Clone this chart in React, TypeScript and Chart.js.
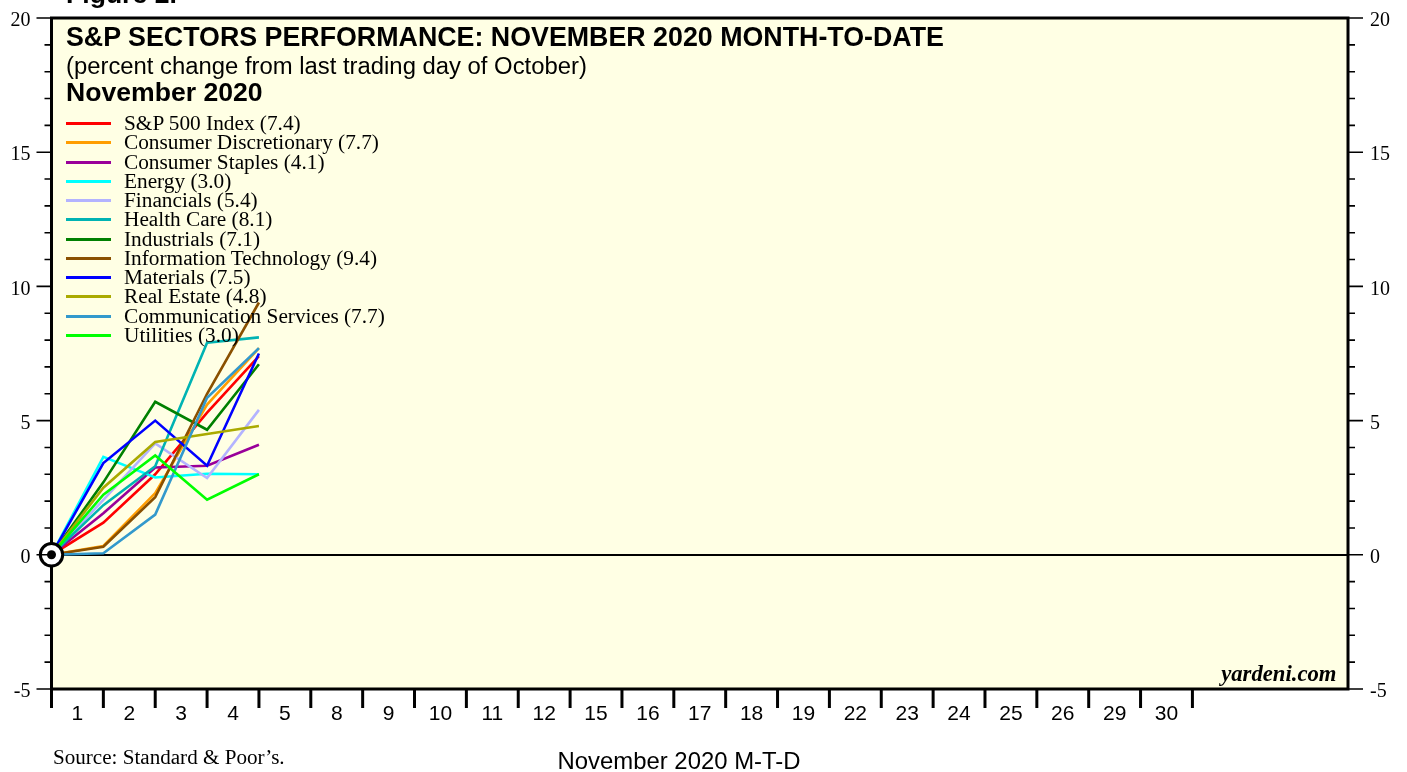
import React, { useEffect, useRef } from "react";
import { Chart, registerables } from "chart.js";

Chart.register(...registerables);

// ---- data ----
const dayLabels = ["1", "2", "3", "4", "5", "8", "9", "10", "11", "12", "15", "16", "17", "18", "19", "22", "23", "24", "25", "26", "29", "30", "", "", ""];
const lastTickedDay = 22; // number of labelled trading-day slots
const tradingDayIndex = [0, 1, 2, 3, 4];

const seriesNames = [
  "S&P 500 Index",
  "Consumer Discretionary",
  "Consumer Staples",
  "Energy",
  "Financials",
  "Health Care",
  "Industrials",
  "Information Technology",
  "Materials",
  "Real Estate",
  "Communication Services",
  "Utilities",
];
const seriesColors = [
  "#ff0000",
  "#ff9d00",
  "#990099",
  "#00ffff",
  "#b3b3ff",
  "#00b3b3",
  "#008000",
  "#8a5000",
  "#0000ff",
  "#aaaa00",
  "#3399cc",
  "#00ff00",
];
const sp500Index = [0, 1.2, 3.0, 5.3, 7.4];
const consumerDiscretionary = [0, 0.33, 2.3, 5.6, 7.7];
const consumerStaples = [0, 1.55, 3.25, 3.32, 4.1];
const energy = [0, 3.65, 2.88, 3.02, 3.0];
const financials = [0, 2.05, 4.15, 2.86, 5.4];
const healthCare = [0, 1.85, 3.3, 7.9, 8.1];
const industrials = [0, 2.7, 5.7, 4.66, 7.1];
const informationTechnology = [0, 0.3, 2.15, 6.0, 9.4];
const materials = [0, 3.42, 5.0, 3.32, 7.5];
const realEstate = [0, 2.5, 4.2, 4.5, 4.8];
const communicationServices = [0, 0.06, 1.5, 5.85, 7.7];
const utilities = [0, 2.24, 3.7, 2.05, 3.0];
const seriesValues = [
  sp500Index,
  consumerDiscretionary,
  consumerStaples,
  energy,
  financials,
  healthCare,
  industrials,
  informationTechnology,
  materials,
  realEstate,
  communicationServices,
  utilities,
];

const yMin = -5;
const yMax = 20;
const yMajorStep = 5;

const titleText = "S&P SECTORS PERFORMANCE: NOVEMBER 2020 MONTH-TO-DATE";
const subtitleText = "(percent change from last trading day of October)";
const periodText = "November 2020";
const figureText = "Figure 2.";
const xTitleText = "November 2020 M-T-D";
const sourceText = "Source: Standard & Poor\u2019s.";
const brandText = "yardeni.com";

// ---- styles ----
const SANS = '"Liberation Sans", Arial, Helvetica, sans-serif';
const SERIF = '"Liberation Serif", "Times New Roman", Times, serif';
const PLOT_BG = "#ffffe4";

const framePlugin = {
  id: "frame",
  beforeDraw(chart: any) {
    const { ctx, chartArea: a } = chart;
    ctx.save();
    ctx.fillStyle = PLOT_BG;
    ctx.fillRect(a.left, a.top, a.right - a.left, a.bottom - a.top);
    ctx.restore();
  },
  beforeDatasetsDraw(chart: any) {
    const { ctx, chartArea: a } = chart;
    ctx.save();
    ctx.strokeStyle = "#000";
    ctx.lineWidth = 3;
    ctx.strokeRect(a.left, a.top, a.right - a.left, a.bottom - a.top);
    ctx.restore();
  },
  afterDraw(chart: any) {
    const { ctx, chartArea: a } = chart;
    const ys = chart.scales.y;
    const xs = chart.scales.x;
    ctx.save();
    ctx.strokeStyle = "#000";
    ctx.lineWidth = 1.6;
    for (let v = yMin; v <= yMax; v++) {
      const py = ys.getPixelForValue(v);
      const len = v % yMajorStep === 0 ? 15 : 7;
      ctx.beginPath();
      ctx.moveTo(a.left - len, py);
      ctx.lineTo(a.left, py);
      ctx.moveTo(a.right, py);
      ctx.lineTo(a.right + len, py);
      ctx.stroke();
    }
    ctx.lineWidth = 3;
    for (let i = 0; i <= lastTickedDay; i++) {
      const px = xs.getPixelForValue(i);
      ctx.beginPath();
      ctx.moveTo(px, a.bottom);
      ctx.lineTo(px, a.bottom + 19);
      ctx.stroke();
    }
    ctx.restore();
  },
};

function Txt(props: {
  x: number;
  baseline: number;
  size: number;
  family: "sans" | "serif";
  bold?: boolean;
  italic?: boolean;
  align?: "left" | "center" | "right";
  children: React.ReactNode;
}) {
  const { x, baseline, size, family, bold, italic, align = "left" } = props;
  const ratio = family === "sans" ? 0.8465 : 0.8375;
  const style: React.CSSProperties = {
    position: "absolute",
    top: baseline - ratio * size,
    fontFamily: family === "sans" ? SANS : SERIF,
    fontSize: size,
    lineHeight: `${size}px`,
    fontWeight: bold ? "bold" : "normal",
    fontStyle: italic ? "italic" : "normal",
    whiteSpace: "nowrap",
    color: "#000",
  };
  if (align === "left") style.left = x;
  else if (align === "right") style.right = 1407 - x;
  else {
    style.left = x;
    style.transform = "translateX(-50%)";
  }
  return <div style={style}>{props.children}</div>;
}

function fitVertical(width: number) {
  return (s: any) => {
    s.width = width;
    s.paddingTop = 0;
    s.paddingBottom = 0;
  };
}

export default function App() {
  const canvasRef = useRef<HTMLCanvasElement>(null);

  useEffect(() => {
    const canvas = canvasRef.current;
    if (!canvas) return;
    const n = seriesNames.length;
    const lineSets: any[] = seriesNames.map((name, i) => ({
      type: "line",
      label: name,
      data: tradingDayIndex.map((x, j) => ({ x, y: seriesValues[i][j] })),
      borderColor: seriesColors[i],
      backgroundColor: seriesColors[i],
      borderWidth: 2.6,
      pointRadius: 0,
      tension: 0,
      fill: false,
      xAxisID: "x",
      yAxisID: "y",
      order: n - i,
    }));
    const origin = { x: tradingDayIndex[0], y: sp500Index[0] };
    const markerSets: any[] = [
      {
        type: "line",
        label: "origin-dot",
        data: [origin],
        showLine: false,
        pointRadius: 4.5,
        pointBorderWidth: 0,
        pointBackgroundColor: "#000",
        pointBorderColor: "#000",
        clip: false,
        xAxisID: "x",
        yAxisID: "y",
        order: -20,
      },
      {
        type: "line",
        label: "origin-ring",
        data: [origin],
        showLine: false,
        pointRadius: 11.2,
        pointBorderWidth: 3,
        pointBackgroundColor: "#fff",
        pointBorderColor: "#000",
        clip: false,
        xAxisID: "x",
        yAxisID: "y",
        order: -10,
      },
    ];

    const yTickFont = { family: SERIF, size: 20 };
    const chart = new Chart(canvas, {
      type: "line",
      data: { datasets: [...markerSets, ...lineSets] },
      plugins: [framePlugin],
      options: {
        responsive: false,
        animation: false,
        events: [],
        layout: { padding: { top: 18, left: 0, right: 0, bottom: 0 } },
        plugins: {
          legend: { display: false },
          tooltip: { enabled: false },
          title: { display: false },
        },
        scales: {
          x: {
            type: "linear",
            display: false,
            min: 0,
            max: dayLabels.length,
          },
          xDays: {
            type: "category",
            position: "bottom",
            labels: dayLabels,
            min: 0,
            max: dayLabels.length - 1,
            offset: true,
            grid: { display: false },
            border: { display: false },
            ticks: {
              autoSkip: false,
              maxRotation: 0,
              minRotation: 0,
              padding: 5,
              color: "#000",
              font: { family: SANS, size: 21 },
            },
            afterFit: (s: any) => {
              s.height = 83;
              s.paddingLeft = 0;
              s.paddingRight = 0;
            },
          },
          y: {
            type: "linear",
            position: "left",
            min: yMin,
            max: yMax,
            ticks: {
              stepSize: 1,
              autoSkip: false,
              padding: 21,
              labelOffset: 3,
              color: "#000",
              font: yTickFont,
              callback: (v: any) => (Number(v) % yMajorStep === 0 ? String(v) : ""),
            },
            grid: {
              drawTicks: false,
              drawOnChartArea: true,
              color: (c: any) => (c.tick && c.tick.value === 0 ? "#000" : "rgba(0,0,0,0)"),
              lineWidth: 2,
            },
            border: { display: false },
            afterFit: fitVertical(51.5),
          },
          y2: {
            type: "linear",
            position: "right",
            min: yMin,
            max: yMax,
            ticks: {
              stepSize: 1,
              autoSkip: false,
              padding: 22,
              labelOffset: 3,
              color: "#000",
              font: yTickFont,
              callback: (v: any) => (Number(v) % yMajorStep === 0 ? String(v) : ""),
            },
            grid: { display: false, drawTicks: false },
            border: { display: false },
            afterFit: fitVertical(59),
          },
        },
      } as any,
    });
    return () => chart.destroy();
  }, []);

  const legendTop = 123.5;
  const legendStep = 19.27;

  return (
    <div
      style={{
        position: "fixed",
        left: 0,
        top: 0,
        width: 1407,
        height: 772,
        background: "#fff",
        overflow: "hidden",
      }}
    >
      <canvas
        ref={canvasRef}
        width={1407}
        height={772}
        style={{ position: "absolute", left: 0, top: 0, width: 1407, height: 772 }}
      />
      <Txt x={66} baseline={3.5} size={26.6} family="sans" bold>
        {figureText}
      </Txt>
      <Txt x={66} baseline={46.5} size={26.8} family="sans" bold>
        {titleText}
      </Txt>
      <Txt x={66} baseline={74.5} size={23.85} family="sans">
        {subtitleText}
      </Txt>
      <Txt x={66} baseline={102} size={26.6} family="sans" bold>
        {periodText}
      </Txt>
      {seriesNames.map((name, i) => {
        const cy = legendTop + i * legendStep;
        const last = seriesValues[i][seriesValues[i].length - 1];
        return (
          <React.Fragment key={name}>
            <div
              style={{
                position: "absolute",
                left: 66,
                top: cy - 1.5,
                width: 45,
                height: 3,
                background: seriesColors[i],
              }}
            />
            <Txt x={124} baseline={cy + 7.3} size={21.3} family="serif">
              {`${name} (${last.toFixed(1)})`}
            </Txt>
          </React.Fragment>
        );
      })}
      <Txt x={1336.5} baseline={682} size={22.7} family="serif" bold italic align="right">
        {brandText}
      </Txt>
      <Txt x={53} baseline={764.5} size={21.1} family="serif">
        {sourceText}
      </Txt>
      <Txt x={679} baseline={769} size={23.9} family="sans" align="center">
        {xTitleText}
      </Txt>
    </div>
  );
}
